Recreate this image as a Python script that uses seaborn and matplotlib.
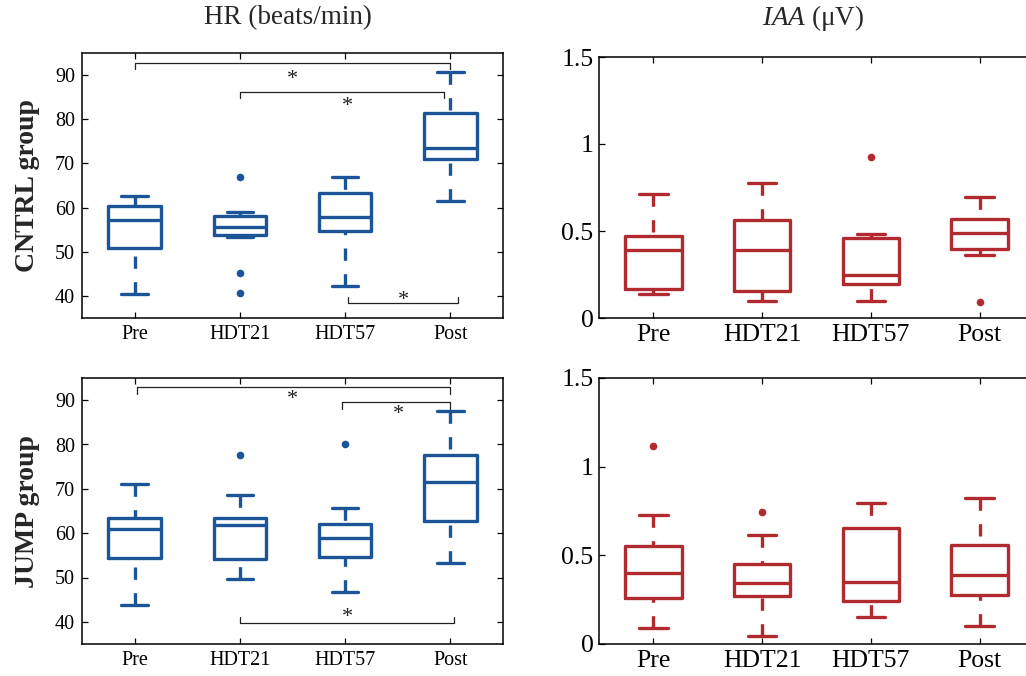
import numpy as np
import pandas as pd
import matplotlib
matplotlib.use("Agg")
import matplotlib.pyplot as plt
import seaborn as sns

# ===============================
# data
# ===============================
phases = ["Pre", "HDT21", "HDT57", "Post"]

# five-number summary per phase: lower whisker, q1, median, q3, upper whisker
hr_cntrl = [[40.4, 50.9, 57.2, 60.4, 62.7],
            [53.4, 53.7, 55.7, 58.1, 58.9],
            [42.2, 54.6, 57.9, 63.3, 67.0],
            [61.5, 71.1, 73.6, 81.5, 90.7]]
hr_jump = [[43.9, 54.4, 61.0, 63.4, 71.1],
           [49.7, 54.1, 61.8, 63.4, 68.6],
           [46.8, 54.7, 58.8, 62.1, 65.7],
           [53.3, 62.7, 71.5, 77.6, 87.5]]
iaa_cntrl = [[0.136, 0.165, 0.389, 0.473, 0.713],
             [0.100, 0.153, 0.389, 0.563, 0.776],
             [0.100, 0.193, 0.249, 0.462, 0.483],
             [0.360, 0.398, 0.490, 0.571, 0.693]]
iaa_jump = [[0.088, 0.261, 0.398, 0.553, 0.726],
            [0.043, 0.271, 0.344, 0.451, 0.615],
            [0.154, 0.242, 0.352, 0.652, 0.797],
            [0.100, 0.276, 0.389, 0.558, 0.823]]

# outliers per phase
hr_cntrl_out = [[], [67.0, 45.1, 40.7], [], []]
hr_jump_out = [[], [77.6], [80.1], []]
iaa_cntrl_out = [[], [], [0.925], [0.09]]
iaa_jump_out = [[1.115], [0.742], [], []]

# significance brackets: (x from, x to, line level, star x, star y)
sig_cntrl = [(0.0, 3.0, 92.8, 1.5, 90.2),
             (1.0, 2.94, 86.2, 2.02, 84.1),
             (2.03, 3.07, 38.3, 2.55, 40.0)]
sig_jump = [(0.02, 3.0, 93.0, 1.5, 91.3),
            (1.97, 3.0, 89.55, 2.51, 87.8),
            (1.0, 3.03, 39.7, 2.02, 42.1)]

blue = "#1C5597"
red = "#B02A30"

sns.set_theme(style="ticks")
plt.rcParams['font.family'] = ['Liberation Serif', 'DejaVu Serif']
plt.rcParams['mathtext.fontset'] = 'custom'
plt.rcParams['mathtext.rm'] = 'Liberation Serif'
plt.rcParams['mathtext.it'] = 'Liberation Serif:italic'

W, H = 1026, 676
fig = plt.figure(figsize=(W / 100, H / 100), dpi=100)
ax_tl = fig.add_axes([82 / W, 1 - 318 / H, 421 / W, 265 / H])
ax_tr = fig.add_axes([599 / W, 1 - 318 / H, 435 / W, 261 / H])
ax_bl = fig.add_axes([82 / W, 1 - 644 / H, 421 / W, 266 / H])
ax_br = fig.add_axes([599 / W, 1 - 644 / H, 435 / W, 266 / H])


def to_long(rows):
    recs = []
    for ph, vals in zip(phases, rows):
        for v in vals:
            recs.append({"phase": ph, "value": v})
    return pd.DataFrame(recs, columns=["phase", "value"])


def draw_panel(ax, box, out, color, width):
    sns.boxplot(data=to_long(box), x="phase", y="value", order=phases,
                whis=(0, 100), fill=False, color=color, linewidth=2.4,
                width=width, showfliers=False,
                whiskerprops={"linestyle": (0, (3.7, 4.0))}, ax=ax)
    # start the dashes at the caps like the original
    for ln in ax.lines:
        x, y = ln.get_data()
        if len(x) == 2 and x[0] == x[1]:
            ln.set_data(np.asarray(x)[::-1], np.asarray(y)[::-1])
    od = to_long(out)
    if len(od):
        sns.stripplot(data=od, x="phase", y="value", order=phases,
                      jitter=False, color=color, size=5.5, linewidth=0, ax=ax)
    ax.set_xlim(-0.5, 3.5)
    ax.set_xlabel("")
    ax.set_ylabel("")
    for s in ax.spines.values():
        s.set_linewidth(1.1)
        s.set_color("black")
    ax.tick_params(direction="in", top=True, right=True, length=4, width=0.9,
                   colors="black")


def draw_sig(ax, sigs):
    for x0, x1, yl, sx, sy in sigs:
        drop = -1.5 if yl > 60 else 1.5
        ax.plot([x0, x0, x1, x1], [yl + drop, yl, yl, yl + drop],
                color="#222222", lw=0.9)
        ax.annotate("*", (sx, sy), xytext=(0, -3.5), textcoords="offset points",
                    ha="center", va="center", fontsize=16, color="#222222")


# left column: heart rate
for ax, box, out, sigs, lab in [(ax_tl, hr_cntrl, hr_cntrl_out, sig_cntrl, "CNTRL group"),
                                (ax_bl, hr_jump, hr_jump_out, sig_jump, "JUMP group")]:
    draw_panel(ax, box, out, blue, 0.5)
    draw_sig(ax, sigs)
    ax.set_ylim(35, 95)
    ax.set_yticks([40, 50, 60, 70, 80, 90])
    ax.tick_params(labelsize=14.5, pad=5)
    ax.set_ylabel(lab, fontsize=20, fontweight="bold")
    ax.yaxis.set_label_coords(-0.1, 0.5)

# right column: IAA
for ax, box, out in [(ax_tr, iaa_cntrl, iaa_cntrl_out),
                     (ax_br, iaa_jump, iaa_jump_out)]:
    draw_panel(ax, box, out, red, 0.52)
    ax.set_ylim(0, 1.5)
    ax.set_yticks([0, 0.5, 1, 1.5])
    ax.set_yticklabels(["0", "0.5", "1", "1.5"])
    ax.tick_params(labelsize=18.5, pad=4)

fig.text(288 / W, 1 - 18 / H, "HR (beats/min)", ha="center", va="center",
         fontsize=19.5)
fig.text(813 / W, 1 - 18 / H, "$IAA$ (μV)", ha="center", va="center",
         fontsize=19.5)

fig.savefig("out.png", dpi=100)
